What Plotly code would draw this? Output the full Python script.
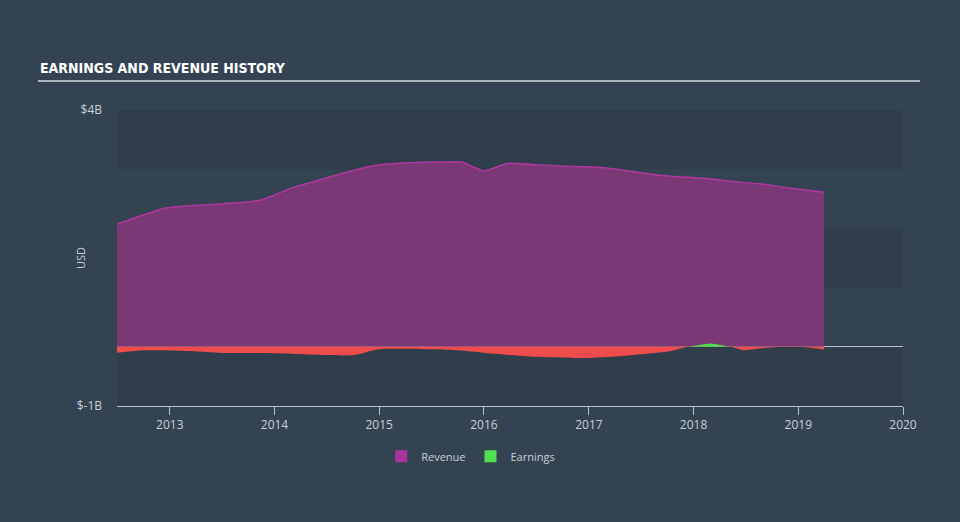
import plotly.graph_objects as go

# Revenue (USD billions)
rev_dates = ["2012-07-01", "2012-09-20", "2012-12-15", "2013-02-01", "2013-06-15",
             "2013-10-01", "2013-11-15", "2014-03-01", "2014-06-15", "2014-09-25",
             "2014-12-25", "2015-03-15", "2015-07-01", "2015-10-15", "2015-11-25",
             "2016-01-01", "2016-02-10", "2016-03-25", "2016-07-15", "2016-10-01",
             "2017-01-10", "2017-04-10", "2017-07-01", "2017-10-15", "2018-01-25",
             "2018-05-01", "2018-08-25", "2018-12-05", "2019-02-10", "2019-04-01"]
rev_vals = [2.07, 2.21, 2.34, 2.37, 2.41,
            2.45, 2.48, 2.68, 2.83, 2.97,
            3.07, 3.10, 3.12, 3.12, 3.04,
            2.97, 3.03, 3.10, 3.07, 3.05,
            3.04, 3.00, 2.94, 2.88, 2.85,
            2.80, 2.75, 2.68, 2.64, 2.61]

# Earnings (USD billions)
earn_dates = ["2012-07-01", "2012-10-01", "2013-04-10", "2013-06-15", "2014-01-01",
              "2014-05-01", "2014-10-05", "2014-12-28", "2015-07-10", "2015-10-05",
              "2016-01-01", "2016-06-25", "2016-12-15", "2017-04-15", "2017-08-05",
              "2017-10-15", "2017-12-15", "2018-03-01", "2018-05-10", "2018-06-25",
              "2018-08-15", "2018-10-25", "2019-01-20", "2019-04-01"]
earn_vals = [-0.10, -0.06, -0.08, -0.10, -0.11,
             -0.13, -0.14, -0.04, -0.04, -0.06,
             -0.10, -0.17, -0.19, -0.16, -0.11,
             -0.07, 0.0, 0.055, 0.0, -0.06,
             -0.03, -0.005, -0.005, -0.05]

tick_years = ["2013", "2014", "2015", "2016", "2017", "2018", "2019", "2020"]

BG = "#344352"
BAND = "#303e4c"
TXT = "#c8cfd6"

earn_neg = [min(v, 0) for v in earn_vals]
earn_pos = [max(v, 0) for v in earn_vals]

fig = go.Figure()
fig.add_trace(go.Scatter(x=rev_dates, y=rev_vals, mode="lines", fill="tozeroy",
                         line=dict(color="#b0379f", width=1.5, shape="spline", smoothing=0.6),
                         fillcolor="rgba(122,56,117,1)", showlegend=False, hoverinfo="skip"))
fig.add_trace(go.Scatter(x=earn_dates, y=earn_neg, mode="lines", fill="tozeroy",
                         line=dict(color="#f04c4c", width=0, shape="spline", smoothing=0.6),
                         fillcolor="#f04c4c", showlegend=False, hoverinfo="skip"))
fig.add_trace(go.Scatter(x=earn_dates, y=earn_pos, mode="lines", fill="tozeroy",
                         line=dict(color="#4fe14f", width=0, shape="spline", smoothing=0.6),
                         fillcolor="#4fe14f", showlegend=False, hoverinfo="skip"))
# legend entries
fig.add_trace(go.Scatter(x=[None], y=[None], mode="markers", name="Revenue",
                         marker=dict(symbol="square", size=13, color="#a8359f")))
fig.add_trace(go.Scatter(x=[None], y=[None], mode="markers", name="Earnings",
                         marker=dict(symbol="square", size=13, color="#4fe14f")))

# alternating bands
for y0, y1 in [(3, 4), (1, 2), (-1, 0)]:
    fig.add_shape(type="rect", xref="paper", yref="y", x0=0, x1=1, y0=y0, y1=y1,
                  fillcolor=BAND, line=dict(width=0), layer="below")

# title underline
fig.add_shape(type="line", xref="paper", yref="paper", x0=-79/786, x1=803/786,
              y0=1 + 29/296, y1=1 + 29/296, line=dict(color="#aeb6be", width=2))

fig.add_annotation(text="<b>EARNINGS AND REVENUE HISTORY</b>", xref="paper", yref="paper",
                   x=-79/786, y=1 + 32/296, xanchor="left", yanchor="bottom", showarrow=False,
                   font=dict(family="DejaVu Sans Condensed, Liberation Sans Narrow, sans-serif",
                             size=14, color="#ffffff"))

fig.add_annotation(text="USD", xref="paper", yref="paper", x=-37/786, y=0.5,
                   xanchor="center", yanchor="middle", textangle=-90, showarrow=False,
                   font=dict(size=11, color=TXT))

fig.update_layout(
    width=960, height=522,
    margin=dict(l=117, r=57, t=110, b=116),
    paper_bgcolor=BG, plot_bgcolor=BG,
    font=dict(family="Open Sans, sans-serif", color=TXT, size=11),
    showlegend=True,
    legend=dict(orientation="h", x=0.450, xanchor="center", y=-0.17, yanchor="middle",
                font=dict(size=11, color=TXT), itemsizing="constant", bgcolor="rgba(0,0,0,0)"),
    xaxis=dict(type="date", range=["2012-07-01", "2020-01-01"],
               tickvals=[y + "-01-01" for y in tick_years], ticktext=tick_years,
               showgrid=False, zeroline=False, showline=True, linecolor="#b5c0cc", linewidth=1,
               ticks="outside", ticklen=8, tickcolor="#b5c0cc", tickfont=dict(size=12, color=TXT)),
    yaxis=dict(range=[-1, 4], tickvals=[-1, 4], ticktext=["$-1B", "$4B"],
               showgrid=False, zeroline=True, zerolinecolor="#b9c1c9", zerolinewidth=1,
               showline=False, ticks="", ticklabelstandoff=14,
               tickfont=dict(size=12, color=TXT)),
)

fig.write_html("out.html")
